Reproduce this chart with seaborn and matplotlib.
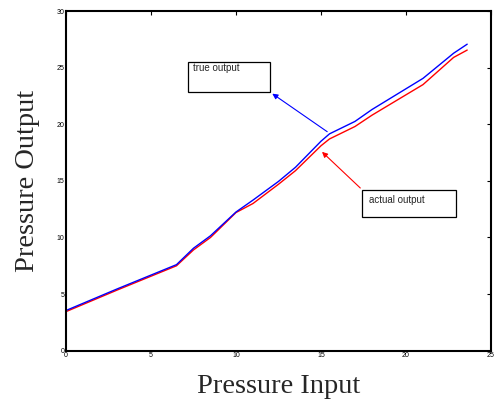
import matplotlib
matplotlib.use("Agg")
import matplotlib.pyplot as plt
import pandas as pd
import seaborn as sns
from matplotlib.patches import Rectangle

# Data
pressure_in = [0, 3, 6.5, 7.5, 8.5, 10, 11, 12.5, 13.5, 15.0, 15.5, 17, 18, 21, 22.8, 23.6]
true_out = [3.55, 5.45, 7.6, 9.05, 10.15, 12.25, 13.3, 14.95, 16.2, 18.5, 19.15, 20.25, 21.3, 24.05, 26.27, 27.07]
actual_out = [3.45, 5.35, 7.5, 8.9, 10.0, 12.2, 13.0, 14.7, 15.9, 18.1, 18.7, 19.8, 20.8, 23.5, 25.9, 26.55]
x_ticks = [0, 5, 10, 15, 20, 25]
y_ticks = [0, 5, 10, 15, 20, 25, 30]

df = pd.concat([
    pd.DataFrame({"input": pressure_in, "output": true_out, "series": "true output"}),
    pd.DataFrame({"input": pressure_in, "output": actual_out, "series": "actual output"}),
])

sns.set_style("white")
plt.rcParams["font.family"] = ["Liberation Sans", "DejaVu Sans"]

fig = plt.figure(figsize=(4.94, 4.01), dpi=100)
ax = fig.add_axes([66 / 494, 1 - 350.7 / 401, (491 - 66) / 494, (350.7 - 11) / 401])

sns.lineplot(data=df, x="input", y="output", hue="series",
             palette={"true output": "#0000ff", "actual output": "#ff0000"},
             hue_order=["actual output", "true output"],
             linewidth=1.0, legend=False, ax=ax, sort=False)

ax.set_xlim(0, 25)
ax.set_ylim(0, 30)
ax.set_xticks(x_ticks)
ax.set_yticks(y_ticks)
ax.tick_params(direction="in", length=3, width=0.8, labelsize=5, pad=1,
               top=True, right=True, colors="black")
for s in ax.spines.values():
    s.set_linewidth(1.5)
    s.set_color("black")

ax.set_xlabel("Pressure Input", family="Liberation Serif", fontsize=20.5, labelpad=11)
ax.set_ylabel("Pressure Output", family="Liberation Serif", fontsize=20.5, labelpad=12)

# text boxes with arrows
ax.add_patch(Rectangle((7.15, 22.84), 4.85, 2.66, fill=False, edgecolor="black", linewidth=0.9))
ax.text(7.45, 24.95, "true output", fontsize=7, va="center", ha="left")
ax.annotate("", xy=(12.0, 22.84), xytext=(15.5, 19.2),
            arrowprops=dict(arrowstyle="-|>", color="#0000ff", lw=0.8, mutation_scale=8))

ax.add_patch(Rectangle((17.43, 11.84), 5.5, 2.36, fill=False, edgecolor="black", linewidth=0.9))
ax.text(17.8, 13.35, "actual output", fontsize=7, va="center", ha="left")
ax.annotate("", xy=(14.94, 17.73), xytext=(17.43, 14.2),
            arrowprops=dict(arrowstyle="-|>", color="#ff0000", lw=0.8, mutation_scale=8))

fig.savefig("out.png", dpi=100)
